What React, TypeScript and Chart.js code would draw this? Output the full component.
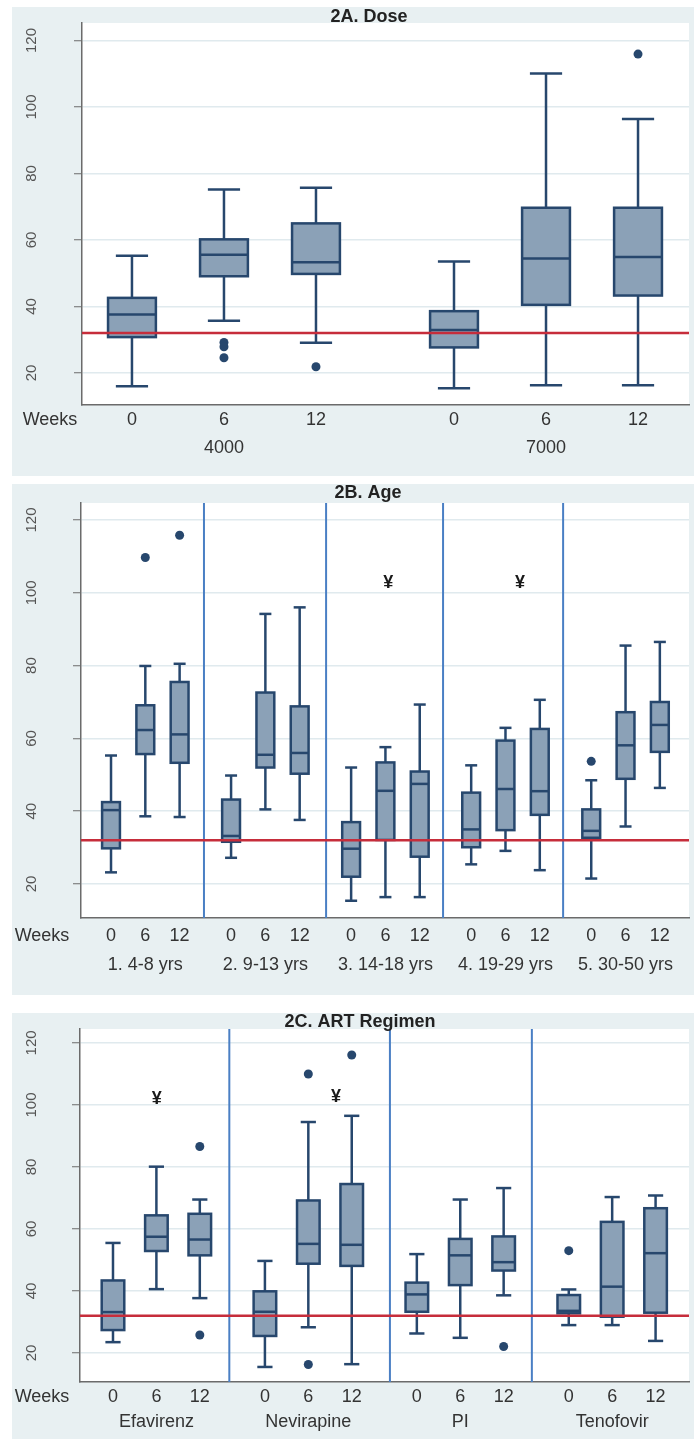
import React, { useEffect, useRef } from "react";
import { Chart, registerables } from "chart.js";

Chart.register(...registerables);

// ---------- shared labels ----------
const weekLabels = ["0", "6", "12"];
const yTickValues = [20, 40, 60, 80, 100, 120];
const referenceValue = 32;
const markSymbol = "¥";

// ---------- 2A. Dose ----------
// each box: [lower whisker, Q1, median, Q3, upper whisker]
const doseGroups = ["4000", "7000"];
const doseBoxes = [
  [16.0, 30.8, 37.6, 42.6, 55.3],
  [35.7, 49.1, 55.6, 60.2, 75.2],
  [29.1, 49.8, 53.3, 65.0, 75.7],
  [15.4, 27.7, 32.9, 38.6, 53.5],
  [16.3, 40.5, 54.4, 69.7, 110.1],
  [16.3, 43.3, 54.9, 69.7, 96.4],
];
const doseOutliers = [[], [29.2, 27.9, 24.6], [21.9], [], [], [115.9]];
const doseMarkX: number[] = [];
const doseMarkY: number[] = [];
const doseSeparators: number[] = [];

// ---------- 2B. Age ----------
const ageGroups = ["1. 4-8 yrs", "2. 9-13 yrs", "3. 14-18 yrs", "4. 19-29 yrs", "5. 30-50 yrs"];
const ageBoxes = [
  [23.2, 29.8, 40.3, 42.5, 55.3],
  [38.6, 55.7, 62.3, 69.1, 79.9],
  [38.4, 53.3, 61.1, 75.5, 80.5],
  [27.2, 31.6, 33.2, 43.2, 49.8],
  [40.5, 52.0, 55.5, 72.6, 94.2],
  [37.6, 50.3, 56.0, 68.8, 96.0],
  [15.4, 22.0, 29.7, 37.0, 52.0],
  [16.4, 32.1, 45.6, 53.4, 57.6],
  [16.4, 27.5, 47.5, 50.9, 69.3],
  [25.4, 30.1, 35.0, 45.1, 52.6],
  [29.1, 34.8, 46.1, 59.4, 62.9],
  [23.8, 39.0, 45.5, 62.6, 70.6],
  [21.5, 32.7, 34.6, 40.5, 48.5],
  [35.8, 48.9, 58.1, 67.2, 85.5],
  [46.4, 56.3, 63.7, 70.0, 86.5],
];
const ageOutliers = [[], [109.7], [115.8], [], [], [], [], [], [], [], [], [], [53.7], [], []];
const ageMarkX = [8.08, 11.92];
const ageMarkY = [102.8, 102.6];
const ageSeparators = [2.71, 6.27, 9.68, 13.18];

// ---------- 2C. ART Regimen ----------
const artGroups = ["Efavirenz", "Nevirapine", "PI", "Tenofovir"];
const artBoxes = [
  [23.5, 27.4, 33.2, 43.4, 55.5],
  [40.6, 52.9, 57.5, 64.4, 80.1],
  [37.7, 51.5, 56.6, 64.9, 69.5],
  [15.5, 25.5, 33.3, 39.9, 49.7],
  [28.3, 48.8, 55.2, 69.2, 94.5],
  [16.4, 48.1, 54.9, 74.5, 96.5],
  [26.3, 33.3, 38.9, 42.7, 51.9],
  [24.9, 41.9, 51.5, 56.8, 69.5],
  [38.6, 46.6, 49.3, 57.6, 73.2],
  [29.0, 32.8, 33.6, 38.7, 40.5],
  [29.0, 31.7, 41.4, 62.3, 70.3],
  [23.9, 33.0, 52.2, 66.7, 70.8],
];
const artOutliers = [[], [], [86.6, 25.8], [], [110.0, 16.3], [116.1], [], [], [22.1], [53.0], [], []];
const artMarkX = [1.01, 5.14];
const artMarkY = [102.0, 102.5];
const artSeparators = [2.68, 6.38, 9.65];

// ---------- styling ----------
const PANEL_BG = "#e8f0f2";
const GRID = "#e0eaee";
const AXIS = "#6b6b6b";
const NAVY = "#27476d";
const BOX_FILL = "#8ba1b7";
const RED = "#c62d3b";
const SEP = "#4a7fc4";
const TEXT = "#333333";
const SANS = "'Liberation Sans', Arial, sans-serif";
const BOX_W = 0.52;
const CAP_W = 0.35;

const pos = (i: number) => Math.floor(i / 3) * 3.5 + (i % 3);

type Panel = {
  title: string;
  top: number;
  height: number;
  area: { left: number; top: number; right: number; bottom: number };
  xMin: number;
  xMax: number;
  yMin: number;
  yMax: number;
  groups: string[];
  boxes: number[][];
  outliers: number[][];
  markX: number[];
  markY: number[];
  separators: number[];
  titleX: number;
  titleY: number;
  yLabelX: number;
  weeksX: number;
  weekY: number;
  groupY: number;
};

const panels: Panel[] = [
  {
    title: "2A. Dose", top: 7, height: 469,
    area: { left: 70, top: 16, right: 5, bottom: 71 },
    xMin: -0.543, xMax: 6.054, yMin: 10.38, yMax: 125.26,
    groups: doseGroups, boxes: doseBoxes, outliers: doseOutliers,
    markX: doseMarkX, markY: doseMarkY, separators: doseSeparators,
    titleX: 357, titleY: 10, yLabelX: 20, weeksX: 38, weekY: 413, groupY: 441,
  },
  {
    title: "2B. Age", top: 484, height: 511,
    area: { left: 69, top: 19, right: 5, bottom: 77 },
    xMin: -0.875, xMax: 16.85, yMin: 10.66, yMax: 124.67,
    groups: ageGroups, boxes: ageBoxes, outliers: ageOutliers,
    markX: ageMarkX, markY: ageMarkY, separators: ageSeparators,
    titleX: 356, titleY: 9, yLabelX: 20, weeksX: 30, weekY: 452, groupY: 481,
  },
  {
    title: "2C. ART Regimen", top: 1013, height: 426,
    area: { left: 68, top: 16, right: 5, bottom: 57 },
    xMin: -0.76, xMax: 13.27, yMin: 10.65, yMax: 124.5,
    groups: artGroups, boxes: artBoxes, outliers: artOutliers,
    markX: artMarkX, markY: artMarkY, separators: artSeparators,
    titleX: 348, titleY: 9, yLabelX: 20, weeksX: 30, weekY: 384, groupY: 409,
  },
];

function makePlugin(p: Panel) {
  return {
    id: "boxpanel",
    beforeDraw(chart: any) {
      const { ctx, chartArea: a, width, height } = chart;
      ctx.save();
      ctx.fillStyle = PANEL_BG;
      ctx.fillRect(0, 0, width, height);
      ctx.fillStyle = "#ffffff";
      ctx.fillRect(a.left, a.top, a.right - a.left, a.bottom - a.top);
      ctx.restore();
    },
    beforeDatasetsDraw(chart: any) {
      const { ctx, chartArea: a } = chart;
      const xs = chart.scales.x;
      const ys = chart.scales.y;
      ctx.save();
      // separators
      ctx.strokeStyle = SEP;
      ctx.lineWidth = 2;
      p.separators.forEach((s) => {
        const x = xs.getPixelForValue(s);
        ctx.beginPath();
        ctx.moveTo(x, a.bottom);
        ctx.lineTo(x, a.top);
        ctx.stroke();
      });
      // boxes
      const line = (x1: number, y1: number, x2: number, y2: number) => {
        ctx.beginPath();
        ctx.moveTo(x1, y1);
        ctx.lineTo(x2, y2);
        ctx.stroke();
      };
      ctx.strokeStyle = NAVY;
      ctx.lineWidth = 2.5;
      ctx.lineCap = "butt";
      p.boxes.forEach((b, i) => {
        const xv = pos(i);
        const cx = xs.getPixelForValue(xv);
        const hw = xs.getPixelForValue(xv + BOX_W / 2) - cx;
        const cw = xs.getPixelForValue(xv + CAP_W / 2) - cx;
        const [lo, q1, med, q3, hi] = b.map((v) => ys.getPixelForValue(v));
        line(cx, hi, cx, q3);
        line(cx, q1, cx, lo);
        line(cx - cw, hi, cx + cw, hi);
        line(cx - cw, lo, cx + cw, lo);
        ctx.fillStyle = BOX_FILL;
        ctx.fillRect(cx - hw, q3, 2 * hw, q1 - q3);
        ctx.strokeRect(cx - hw, q3, 2 * hw, q1 - q3);
        line(cx - hw, med, cx + hw, med);
      });
      ctx.restore();
    },
    afterDraw(chart: any) {
      const { ctx } = chart;
      const xs = chart.scales.x;
      const ys = chart.scales.y;
      ctx.save();
      // title
      ctx.fillStyle = "#222222";
      ctx.font = `bold 18px ${SANS}`;
      ctx.textAlign = "center";
      ctx.textBaseline = "middle";
      ctx.fillText(p.title, p.titleX, p.titleY);
      // y tick labels (rotated)
      ctx.fillStyle = "#555555";
      ctx.font = `15px ${SANS}`;
      yTickValues.forEach((v) => {
        const y = ys.getPixelForValue(v);
        ctx.save();
        ctx.translate(p.yLabelX, y);
        ctx.rotate(-Math.PI / 2);
        ctx.fillText(String(v), 0, 0);
        ctx.restore();
      });
      // x labels
      ctx.fillStyle = TEXT;
      ctx.font = `18px ${SANS}`;
      ctx.fillText("Weeks", p.weeksX, p.weekY);
      p.boxes.forEach((_, i) => {
        ctx.fillText(weekLabels[i % 3], xs.getPixelForValue(pos(i)), p.weekY);
      });
      p.groups.forEach((g, gi) => {
        ctx.fillText(g, xs.getPixelForValue(pos(gi * 3 + 1)), p.groupY);
      });
      // significance marks
      ctx.fillStyle = "#1a1a1a";
      ctx.font = `bold 18px ${SANS}`;
      p.markX.forEach((mx, i) => {
        ctx.fillText(markSymbol, xs.getPixelForValue(mx), ys.getPixelForValue(p.markY[i]));
      });
      ctx.restore();
    },
  };
}

function makeConfig(p: Panel): any {
  const outlierPts = p.outliers.flatMap((arr, i) => arr.map((v) => ({ x: pos(i), y: v })));
  return {
    type: "scatter",
    data: {
      datasets: [
        {
          type: "line",
          data: [
            { x: p.xMin, y: referenceValue },
            { x: p.xMax, y: referenceValue },
          ],
          borderColor: RED,
          borderWidth: 2.5,
          pointRadius: 0,
          fill: false,
        },
        {
          type: "scatter",
          data: outlierPts,
          backgroundColor: NAVY,
          borderColor: NAVY,
          borderWidth: 0,
          pointRadius: 4.5,
        },
      ],
    },
    options: {
      responsive: false,
      animation: false,
      devicePixelRatio: 1,
      events: [],
      layout: { padding: { left: 0, top: p.area.top, right: p.area.right, bottom: 0 } },
      plugins: { legend: { display: false }, tooltip: { enabled: false }, title: { display: false } },
      scales: {
        x: {
          type: "linear",
          min: p.xMin,
          max: p.xMax,
          ticks: { display: false },
          grid: { display: true, drawOnChartArea: false, drawTicks: false },
          border: { display: true, color: AXIS, width: 1.5 },
          afterFit: (s: any) => {
            s.height = p.area.bottom;
          },
        },
        y: {
          type: "linear",
          min: p.yMin,
          max: p.yMax,
          afterBuildTicks: (s: any) => {
            s.ticks = yTickValues.map((v) => ({ value: v }));
          },
          ticks: { display: false },
          grid: {
            color: GRID,
            lineWidth: 1.5,
            drawTicks: true,
            tickLength: 8,
            tickColor: AXIS,
            tickWidth: 1,
          },
          border: { display: true, color: AXIS, width: 1.5 },
          afterFit: (s: any) => {
            s.width = p.area.left;
          },
        },
      },
    },
    plugins: [makePlugin(p)],
  };
}

function BoxPanel({ p }: { p: Panel }) {
  const ref = useRef<HTMLCanvasElement>(null);
  useEffect(() => {
    if (!ref.current) return;
    const chart = new Chart(ref.current, makeConfig(p));
    return () => chart.destroy();
  }, [p]);
  return (
    <canvas
      ref={ref}
      width={682}
      height={p.height}
      style={{ position: "absolute", left: 12, top: p.top, width: 682, height: p.height }}
    />
  );
}

export default function App() {
  return (
    <div style={{ position: "absolute", left: 0, top: 0, width: 694, height: 1439, background: "#ffffff" }}>
      {panels.map((p) => (
        <BoxPanel key={p.title} p={p} />
      ))}
    </div>
  );
}
